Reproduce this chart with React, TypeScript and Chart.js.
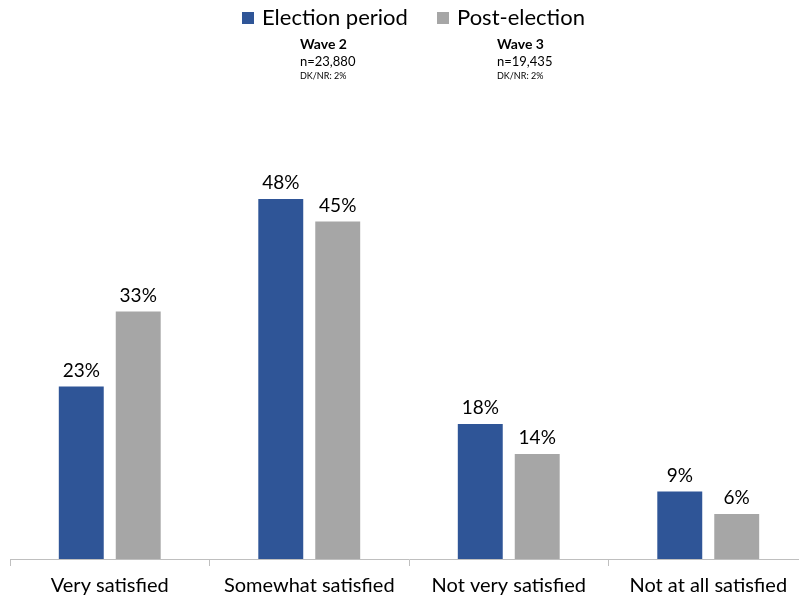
import React, { useEffect, useRef } from "react";
import { Chart, registerables } from "chart.js";

Chart.register(...registerables);

const categories = ["Very satisfied", "Somewhat satisfied", "Not very satisfied", "Not at all satisfied"];
const electionPeriod = [23, 48, 18, 9];
const postElection = [33, 45, 14, 6];
const seriesNames = ["Election period", "Post-election"];
const seriesColors = ["#2F5597", "#A6A6A6"];
const waveNotes = [
  { title: "Wave 2", n: "n=23,880", dk: "DK/NR: 2%" },
  { title: "Wave 3", n: "n=19,435", dk: "DK/NR: 2%" },
];

const FONT = "Lato, 'Open Sans', sans-serif";

const labelPlugin = {
  id: "valueLabels",
  afterDatasetsDraw(chart: any) {
    const ctx = chart.ctx;
    ctx.save();
    ctx.font = `19px ${FONT}`;
    ctx.fillStyle = "#000";
    ctx.textAlign = "center";
    ctx.textBaseline = "alphabetic";
    chart.data.datasets.forEach((ds: any, i: number) => {
      const meta = chart.getDatasetMeta(i);
      meta.data.forEach((bar: any, j: number) => {
        ctx.fillText(ds.data[j] + "%", bar.x, bar.y - 10);
      });
    });
    ctx.restore();
  },
};

const legendPlugin = {
  id: "customLegend",
  afterDraw(chart: any) {
    const ctx = chart.ctx;
    const boxX = [242, 437];
    ctx.save();
    ctx.font = `22px ${FONT}`;
    ctx.textAlign = "left";
    ctx.textBaseline = "middle";
    seriesNames.forEach((name, i) => {
      ctx.fillStyle = seriesColors[i];
      ctx.fillRect(boxX[i], 12, 12, 12);
      ctx.fillStyle = "#000";
      ctx.fillText(name, boxX[i] + 20, 18);
    });
    ctx.restore();
  },
};

const wavePlugin = {
  id: "waveNotes",
  afterDraw(chart: any) {
    const ctx = chart.ctx;
    const xs = [300, 497];
    ctx.save();
    ctx.fillStyle = "#000";
    ctx.textAlign = "left";
    ctx.textBaseline = "alphabetic";
    waveNotes.forEach((w, i) => {
      ctx.font = `bold 14px ${FONT}`;
      ctx.fillText(w.title, xs[i], 49);
      ctx.font = `13px ${FONT}`;
      ctx.fillText(w.n, xs[i], 66);
      ctx.font = `9px ${FONT}`;
      ctx.fillText(w.dk, xs[i], 79);
    });
    ctx.restore();
  },
};

export default function App() {
  const ref = useRef<HTMLCanvasElement>(null);
  useEffect(() => {
    if (!ref.current) return;
    const chart = new Chart(ref.current, {
      type: "bar",
      data: {
        labels: categories,
        datasets: [
          { label: seriesNames[0], data: electionPeriod, backgroundColor: seriesColors[0] },
          { label: seriesNames[1], data: postElection, backgroundColor: seriesColors[1] },
        ],
      },
      options: {
        animation: false,
        responsive: true,
        maintainAspectRatio: false,
        datasets: { bar: { categoryPercentage: 0.571, barPercentage: 0.789 } },
        layout: { padding: { left: 10, right: 10, top: 109, bottom: 2 } },
        plugins: {
          legend: { display: false },
          tooltip: { enabled: false },
        },
        scales: {
          y: { display: false, min: 0, max: 60 },
          x: {
            grid: { drawOnChartArea: false, drawTicks: true, tickLength: 7, color: "#BFBFBF", offset: true },
            border: { color: "#BFBFBF" },
            ticks: { font: { family: FONT, size: 20 }, color: "#000", padding: 8, maxRotation: 0 },
          },
        },
      },
      plugins: [labelPlugin, legendPlugin, wavePlugin],
    });
    return () => chart.destroy();
  }, []);
  return (
    <div style={{ position: "fixed", left: 0, top: 0, width: 799, height: 598, overflow: "hidden", background: "#fff" }}>
      <div style={{ position: "absolute", left: 0, top: 0, width: 818, height: 608 }}>
        <canvas ref={ref} />
      </div>
    </div>
  );
}
